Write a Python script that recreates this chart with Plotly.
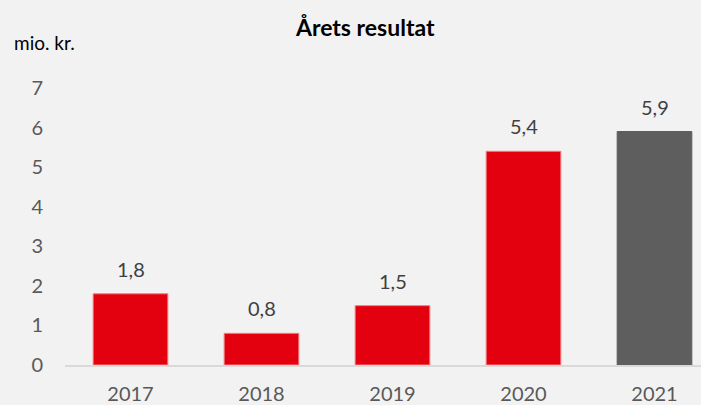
import plotly.graph_objects as go

years = ["2017", "2018", "2019", "2020", "2021"]
values = [1.8, 0.8, 1.5, 5.4, 5.9]
colors = ["#E3000F", "#E3000F", "#E3000F", "#E3000F", "#5E5E5E"]
line_colors = ["#F08080", "#F08080", "#F08080", "#F08080", "#5E5E5E"]
y_ticks = [0, 1, 2, 3, 4, 5, 6, 7]

FONT = "Lato, 'Open Sans', sans-serif"

fig = go.Figure()
fig.add_trace(go.Bar(
    x=list(range(len(years))),
    y=values,
    marker=dict(color=colors, line=dict(color=line_colors, width=1)),
    width=0.57,
    hoverinfo="skip",
))

for i, v in enumerate(values):
    fig.add_annotation(
        x=i, y=v, text=f"{v:.1f}".replace(".", ","),
        showarrow=False, yanchor="bottom", yshift=11,
        font=dict(family=FONT, size=20, color="#404040"),
    )

fig.update_layout(
    width=701, height=405,
    margin=dict(l=65, r=0, t=88, b=40),
    paper_bgcolor="#F2F2F2",
    plot_bgcolor="#F2F2F2",
    separators=",.",
    showlegend=False,
    title=dict(
        text="<b>Årets resultat</b>", x=0.521, xanchor="center",
        y=0.931, yanchor="middle",
        font=dict(family=FONT, size=23, color="#000000"),
    ),
    xaxis=dict(
        range=[-0.5, 4.355],
        tickvals=list(range(len(years))),
        ticktext=years,
        showgrid=False, zeroline=False,
        showline=True, linecolor="#D9D9D9", linewidth=1.5,
        ticks="", ticklabelstandoff=10,
        tickfont=dict(family=FONT, size=20, color="#595959"),
        fixedrange=True,
    ),
    yaxis=dict(
        range=[0, 7],
        tickvals=y_ticks,
        showgrid=False, zeroline=False, showline=False,
        ticks="", ticklabelstandoff=21,
        tickfont=dict(family=FONT, size=20, color="#595959"),
        fixedrange=True,
    ),
)

fig.add_annotation(
    text="mio. kr.", xref="paper", yref="paper", x=-0.0833, y=1.0,
    xanchor="left", yanchor="middle", yshift=46,
    showarrow=False,
    font=dict(family=FONT, size=19, color="#000000"),
)

fig.write_html(
    "out.html",
    config={"displayModeBar": False},
    post_script="document.body.style.margin='0';document.body.style.overflow='hidden';",
)
